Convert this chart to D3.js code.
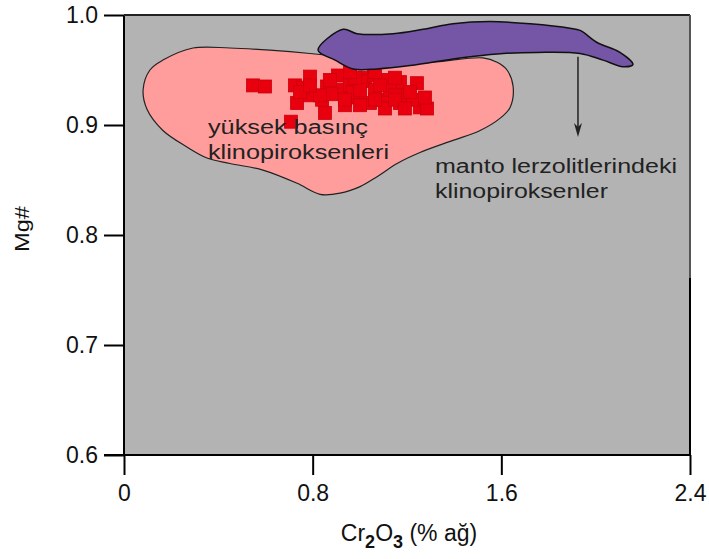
<!DOCTYPE html>
<html>
<head>
<meta charset="utf-8">
<script src="https://cdn.jsdelivr.net/npm/d3@7"></script>
<style>
  body { margin: 0; background: #fff; }
  svg text { font-family: "Liberation Sans", Arial, sans-serif; }
</style>
</head>
<body>
<svg id="chart" width="709" height="559"></svg>
<script>
// tick values
var xTicks = [0, 0.8, 1.6, 2.4];
var yTicks = [0.6, 0.7, 0.8, 0.9, 1.0];

// high pressure cpx field (Cr2O3, Mg#)
var hpField = [
  [0.081, 0.932], [0.110, 0.950], [0.165, 0.959], [0.293, 0.970], [0.449, 0.970],
  [0.619, 0.968], [0.789, 0.965], [0.916, 0.962], [1.086, 0.957], [1.298, 0.957],
  [1.522, 0.961], [1.582, 0.957], [1.624, 0.950], [1.650, 0.935], [1.637, 0.916],
  [1.594, 0.906], [1.510, 0.895], [1.395, 0.886], [1.255, 0.875], [1.158, 0.865],
  [1.073, 0.853], [1.001, 0.844], [0.916, 0.838], [0.831, 0.837], [0.734, 0.847],
  [0.589, 0.859], [0.449, 0.865], [0.352, 0.870], [0.267, 0.880], [0.165, 0.895],
  [0.098, 0.914]
];

// mantle lherzolite cpx field
var mantleField = [
  [0.823, 0.968], [0.929, 0.987], [0.988, 0.983], [1.141, 0.983], [1.268, 0.987],
  [1.395, 0.992], [1.552, 0.994], [1.722, 0.992], [1.891, 0.988], [1.934, 0.986],
  [2.006, 0.975], [2.103, 0.966], [2.158, 0.955], [2.116, 0.953], [2.031, 0.959],
  [1.934, 0.965], [1.751, 0.966], [1.607, 0.965], [1.467, 0.962], [1.395, 0.960],
  [1.213, 0.954], [1.073, 0.951], [0.971, 0.951], [0.895, 0.959]
];

// trend arrow (from, to)
var arrowLine = [[1.925, 0.962], [1.925, 0.889]];

// samples
var samples = [
  [0.547, 0.936], [0.598, 0.935], [0.725, 0.936], [0.789, 0.944], [0.734, 0.920],
  [0.852, 0.911], [0.708, 0.903], [0.907, 0.945], [1.022, 0.943], [1.107, 0.941],
  [1.170, 0.939], [1.242, 0.938], [1.255, 0.916], [1.285, 0.915], [1.170, 0.920],
  [1.098, 0.923], [1.043, 0.920], [0.988, 0.925], [0.916, 0.932], [0.861, 0.935],
  [0.958, 0.936], [1.128, 0.932], [1.200, 0.927], [1.225, 0.923], [0.789, 0.927],
  [0.840, 0.923], [1.064, 0.932], [1.149, 0.927], [0.937, 0.918], [1.107, 0.915],
  [0.759, 0.934], [1.010, 0.940], [1.060, 0.945], [0.880, 0.928], [0.970, 0.930],
  [0.746, 0.930], [0.831, 0.927], [1.001, 0.932], [1.086, 0.936], [1.149, 0.923],
  [1.213, 0.930], [1.276, 0.925], [0.937, 0.923], [1.001, 0.918], [1.064, 0.923],
  [1.191, 0.915], [0.873, 0.941], [0.980, 0.943], [1.149, 0.943], [1.064, 0.948],
  [0.958, 0.948], [0.789, 0.936]
];

var svg = d3.select("#chart"),
  pLeft = 124, pRight = 690, pTop = 15, pBottom = 455;

var x = d3.scaleLinear().domain([0, 2.4]).range([pLeft, pRight]);
var y = d3.scaleLinear().domain([0.6, 1.0]).range([pBottom, pTop]);

// background
svg.append("rect")
  .attr("x", pLeft).attr("y", pTop)
  .attr("width", pRight - pLeft).attr("height", pBottom - pTop)
  .style("fill", "#b3b3b3");

var area = d3.line()
  .x(function(d) { return x(d[0]); })
  .y(function(d) { return y(d[1]); })
  .curve(d3.curveCatmullRomClosed.alpha(0.5));

svg.append("path")
  .attr("d", area(hpField))
  .style("fill", "#ff9c9c")
  .style("stroke", "#222")
  .style("stroke-width", 1.2);

var sq = 13;
svg.selectAll("rect.sample")
  .data(samples)
  .enter().append("rect")
  .attr("class", "sample")
  .attr("x", function(d) { return x(d[0]) - sq / 2; })
  .attr("y", function(d) { return y(d[1]) - sq / 2; })
  .attr("width", sq).attr("height", sq)
  .style("fill", "#e8000e")
  .style("stroke", "#cc000c")
  .style("stroke-width", 0.8);

svg.append("path")
  .attr("d", area(mantleField))
  .style("fill", "#7455a6")
  .style("stroke", "#111")
  .style("stroke-width", 1.5);

// arrow
svg.append("line")
  .attr("x1", x(arrowLine[0][0])).attr("y1", y(arrowLine[0][1]))
  .attr("x2", x(arrowLine[1][0])).attr("y2", y(arrowLine[1][1]) - 4)
  .style("stroke", "#222").style("stroke-width", 1.5);
var ax = x(arrowLine[1][0]), ay = y(arrowLine[1][1]);
svg.append("path")
  .attr("d", "M " + (ax - 4) + "," + (ay - 14) + " L " + ax + "," + ay + " L " + (ax + 4) + "," + (ay - 14) + " L " + ax + "," + (ay - 10) + " Z")
  .style("fill", "#222");

// labels inside the plot
function label(lines, px, py, widths) {
  lines.forEach(function(t, i) {
    svg.append("text")
      .attr("x", px).attr("y", py + i * 25)
      .attr("textLength", widths[i]).attr("lengthAdjust", "spacingAndGlyphs")
      .style("font-size", "20px").style("fill", "#222")
      .text(t);
  });
}
label(["yüksek basınç", "klinopiroksenleri"], 208, 134, [160, 181]);
label(["manto lerzolitlerindeki", "klinopiroksenler"], 435, 173, [242, 173]);

// axes
var yAxis = d3.axisLeft(y).tickValues(yTicks).tickSize(20).tickPadding(6)
  .tickFormat(d3.format(".1f"));
var xAxis = d3.axisBottom(x).tickValues(xTicks).tickSize(20).tickPadding(10)
  .tickFormat(function(d) { return d === 0 ? "0" : d3.format(".1f")(d); });

var gy = svg.append("g").attr("transform", "translate(" + pLeft + ",0)").call(yAxis);
var gx = svg.append("g").attr("transform", "translate(0," + pBottom + ")").call(xAxis);
[gx, gy].forEach(function(g) {
  g.select(".domain").remove();
  g.selectAll("line").style("stroke", "#000").style("stroke-width", 2);
  g.selectAll("text").style("font-size", "23px").style("fill", "#111")
    .style("font-family", "'Liberation Sans', Arial, sans-serif");
});

// frame
svg.append("line").attr("x1", pLeft).attr("x2", pLeft).attr("y1", pTop).attr("y2", pBottom)
  .style("stroke", "#000").style("stroke-width", 2);
svg.append("line").attr("x1", pLeft - 20).attr("x2", pRight).attr("y1", pBottom).attr("y2", pBottom)
  .style("stroke", "#000").style("stroke-width", 2);
svg.append("line").attr("x1", pLeft).attr("x2", pRight).attr("y1", pTop).attr("y2", pTop)
  .style("stroke", "#222").style("stroke-width", 2);
svg.append("line").attr("x1", pRight).attr("x2", pRight).attr("y1", pTop).attr("y2", 278)
  .style("stroke", "#555").style("stroke-width", 2);
svg.append("line").attr("x1", pRight).attr("x2", pRight).attr("y1", 278).attr("y2", pBottom)
  .style("stroke", "#000").style("stroke-width", 2);

// axis titles
var xt = svg.append("text")
  .attr("x", 409).attr("y", 541)
  .attr("text-anchor", "middle")
  .style("font-size", "23px").style("fill", "#111");
xt.append("tspan").text("Cr");
xt.append("tspan").attr("dy", 7).style("font-size", "18px").style("font-weight", "bold").text("2");
xt.append("tspan").attr("dy", -7).text("O");
xt.append("tspan").attr("dy", 7).style("font-size", "18px").style("font-weight", "bold").text("3");
xt.append("tspan").attr("dy", -7).text(" (% ağ)");

svg.append("text")
  .attr("transform", "translate(29,229) rotate(-90)")
  .attr("text-anchor", "middle")
  .attr("textLength", 46).attr("lengthAdjust", "spacingAndGlyphs")
  .style("font-size", "20px").style("fill", "#111")
  .text("Mg#");
</script>
</body>
</html>
